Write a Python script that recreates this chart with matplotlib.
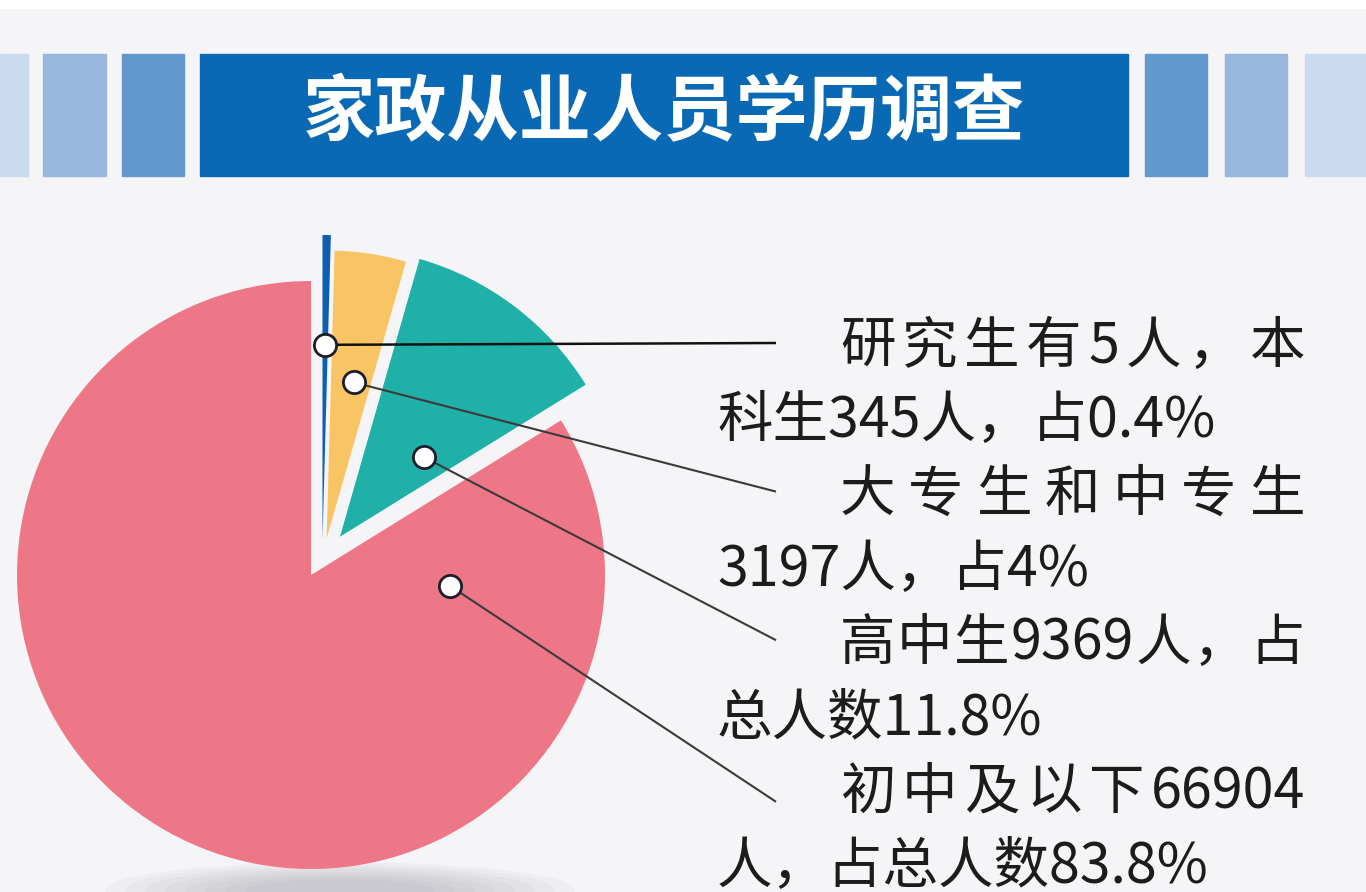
import re
import matplotlib
matplotlib.use("Agg")
import matplotlib.pyplot as plt
from matplotlib.patches import Rectangle, Ellipse
import numpy as np

plt.rcParams['font.family'] = ['Noto Sans CJK SC', 'DejaVu Sans']

# data
title = "家政从业人员学历调查"
graduate = 5
undergrad = 345
college = 3197
highschool = 9369
middle = 66904
counts = [graduate + undergrad, college, highschool, middle]
shares = ["0.4", "4", "11.8", "83.8"]
colors = ["#0D5FB3", "#F9C564", "#1FB1A8", "#EE7787"]

label_lines = [
    [f"研究生有{graduate}人，本", f"科生{undergrad}人，占{shares[0]}%"],
    ["大专生和中专生", f"{college}人，占{shares[1]}%"],
    [f"高中生{highschool}人，占", f"总人数{shares[2]}%"],
    [f"初中及以下{middle}", f"人，占总人数{shares[3]}%"],
]

W, H = 1366, 892
BG = "#F5F5F8"

fig = plt.figure(figsize=(W / 100, H / 100), dpi=100, facecolor=BG)
ax = fig.add_axes([0, 0, 1, 1])


def iy(y):
    # image row -> data y
    return H - y


# header band
ax.add_patch(Rectangle((0, iy(8)), W, 8, color="white", zorder=0))
blocks = [(0, 28, "#CADBEF"), (43, 106, "#99B7DE"), (122, 184, "#6298CE"),
          (200, 1128, "#0A69B4"),
          (1145, 1207, "#6298CE"), (1225, 1287, "#99B7DE"), (1305, 1366, "#CADBEF")]
for x0, x1, c in blocks:
    ax.add_patch(Rectangle((x0, iy(176)), x1 - x0, 122, color=c, zorder=1))
ax.text(664, iy(114), title, color="white", fontsize=52, fontweight="bold",
        ha="center", va="center", zorder=3)

# soft shadow under the pie
for k in range(8):
    ax.add_patch(Ellipse((340, iy(890)), 470 - k * 40, 56 - k * 5,
                         color="#8C8C94", alpha=0.06, lw=0, zorder=0.5))

# pie
cx, cy, R = 311, iy(575), 294
wedges, _ = ax.pie(counts, colors=colors, startangle=90, counterclock=False,
                   explode=[35, 37, 48, 0], center=(cx, cy), radius=R,
                   wedgeprops=dict(linewidth=0))
# the small slices sit a little to the right, blue sliver sticks out higher
nudge_x = [11, 10, 0, 0]
for w, dx in zip(wedges, nudge_x):
    c0 = w.center
    w.set_center((c0[0] + dx, c0[1]))
wedges[0].set_radius(305)
wedges[1].set_radius(288)
wedges[2].set_radius(289)

ax.set_aspect("auto")
ax.set_xlim(0, W)
ax.set_ylim(0, H)
ax.axis("off")

# text block on the right
line_y = [347 + i * 74.3 for i in range(8)]
x_first, x_second, x_right = 840, 717, 1305
txt_kw = dict(fontsize=40, color="#1C1C1C", va="center", zorder=4)
renderer = fig.canvas.get_renderer()


def justified(text, y):
    tokens = re.findall(r"[0-9.%]+|.", text)
    arts = [ax.text(0, y, t, ha="left", **txt_kw) for t in tokens]
    widths = [a.get_window_extent(renderer).width for a in arts]
    gap = (x_right - x_first - sum(widths)) / (len(tokens) - 1)
    x = x_first
    for a, w in zip(arts, widths):
        a.set_x(x)
        x += w + gap


for i, (first, second) in enumerate(label_lines):
    justified(first, iy(line_y[2 * i]))
    ax.text(x_second, iy(line_y[2 * i + 1]), second, ha="left", **txt_kw)

# markers and connector lines
marker_pos = [(0.5, 0.64), (0.57, 0.55), (0.72, 0.40), (0.12, 0.474)]
end_dy = [-4, -4, -4, 9]
line_col = ["#111111", "#3A3A3A", "#3A3A3A", "#3A3A3A"]
for i, (w, (t, rf)) in enumerate(zip(wedges, marker_pos)):
    th = np.deg2rad(w.theta2 - t * (w.theta2 - w.theta1))
    mx = w.center[0] + rf * w.r * np.cos(th)
    my = w.center[1] + rf * w.r * np.sin(th)
    ey = iy(line_y[2 * i] + end_dy[i])
    ax.plot([mx, 776], [my, ey], color=line_col[i], lw=1.8 if i == 0 else 1.5,
            solid_capstyle="butt", zorder=5)
    ax.plot(mx, my, "o", ms=16, mfc="white", mec="#1D1D2B", mew=2, zorder=6)

fig.savefig("out.png", dpi=100, facecolor=BG)
